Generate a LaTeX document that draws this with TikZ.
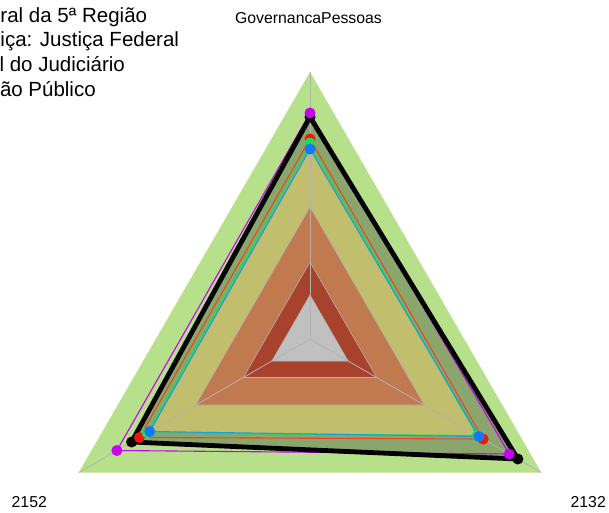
\documentclass[tikz,border=0pt]{standalone}
\usepackage{fontspec}
\setmainfont{Liberation Sans}
\usetikzlibrary{calc}
\definecolor{lgreen}{RGB}{183,224,138}
\definecolor{sage}{RGB}{139,166,108}
\definecolor{olive}{RGB}{193,190,110}
\definecolor{orng}{RGB}{193,121,80}
\definecolor{brick}{RGB}{169,66,44}
\definecolor{lgrey}{RGB}{192,192,192}
\definecolor{gridgrey}{RGB}{178,178,178}
\definecolor{smag}{RGB}{200,0,240}
\definecolor{sred}{RGB}{245,20,10}
\definecolor{sredline}{RGB}{235,70,30}
\definecolor{sgreen}{RGB}{30,220,90}
\definecolor{sblue}{RGB}{20,120,250}
\definecolor{sblueline}{RGB}{20,160,220}
\tikzset{
  lvl/.style={draw=gridgrey, line width=0.6pt},
  axisline/.style={draw=gridgrey, line width=0.8pt},
  serie/.style={line width=1.1pt, line join=miter},
  dot/.style={circle, inner sep=0pt, minimum size=11pt},
  lab/.style={font=\fontsize{15.8}{19}\selectfont, inner sep=0pt},
  ttl/.style={font=\fontsize{20.5}{25}\selectfont, inner sep=0pt, anchor=base west},
}
\begin{document}
\begin{tikzpicture}[x=1pt,y=-1pt]
\useasboundingbox (0,0) rectangle (609,512);
\fill[white] (0,0) rectangle (609,512);
\coordinate (c) at (310,339);
% levels
\foreach \n/\r in {L6/267,L3/132,L2/77,L1/44}{
  \coordinate (\n a) at ($(c)+(270:\r)$);
  \coordinate (\n b) at ($(c)+(150:\r)$);
  \coordinate (\n c) at ($(c)+(30:\r)$);
}
% series
\foreach \n/\a/\b/\cc in {M/226/223/230, K/222/206/240, R/200/197/200, G/196/188/193, B/190/185/195}{
  \coordinate (\n a) at ($(c)+(270:\a)$);
  \coordinate (\n b) at ($(c)+(150:\b)$);
  \coordinate (\n c) at ($(c)+(30:\cc)$);
}
\fill[lgreen] (L6a) -- (L6b) -- (L6c) -- cycle;
\fill[sage] (Ka) -- (Kb) -- (Kc) -- cycle;
\fill[olive] (Ba) -- (Bb) -- (Bc) -- cycle;
\filldraw[fill=orng, lvl] (L3a) -- (L3b) -- (L3c) -- cycle;
\filldraw[fill=brick, lvl] (L2a) -- (L2b) -- (L2c) -- cycle;
\filldraw[fill=lgrey, lvl] (L1a) -- (L1b) -- (L1c) -- cycle;
\draw[axisline] (c) -- (L6a);
\draw[axisline] (c) -- (L6b);
\draw[axisline] (c) -- (L6c);
% series lines
\draw[serie, smag] (Ma) -- (Mb) -- (Mc) -- cycle;
\draw[serie, sredline] (Ra) -- (Rb) -- (Rc) -- cycle;
\draw[serie, sgreen] (Ga) -- (Gb) -- (Gc) -- cycle;
\draw[serie, sblueline] (Ba) -- (Bb) -- (Bc) -- cycle;
\draw[line width=4.8pt, black, line join=miter] (Ka) -- (Kb) -- (Kc) -- cycle;
% points
\foreach \p in {a,b,c}{
  \node[dot, fill=black] (pK\p) at (K\p) {};
  \node[dot, fill=smag] (pM\p) at (M\p) {};
  \node[dot, fill=sred] (pR\p) at (R\p) {};
  \node[dot, fill=sgreen] (pG\p) at (G\p) {};
  \node[dot, fill=sblue] (pB\p) at (B\p) {};
}
% labels
\node[lab, anchor=base] (top) at (308.5,23) {GovernancaPessoas};
\node[lab, anchor=base west] (l2152) at (11.5,507.5) {2152};
\node[lab, anchor=base east] (l2132) at (606,507.5) {2132};
\node[ttl] (t1) at (0.3,22) {ral da 5ª Região};
\node[ttl] (t2) at (0.3,46.8) {iça: Justiça Federal};
\node[ttl] (t3) at (-0.6,71.8) {l do Judiciário};
\node[ttl] (t4) at (-0.2,96.8) {ão Público};
\end{tikzpicture}
\end{document}
